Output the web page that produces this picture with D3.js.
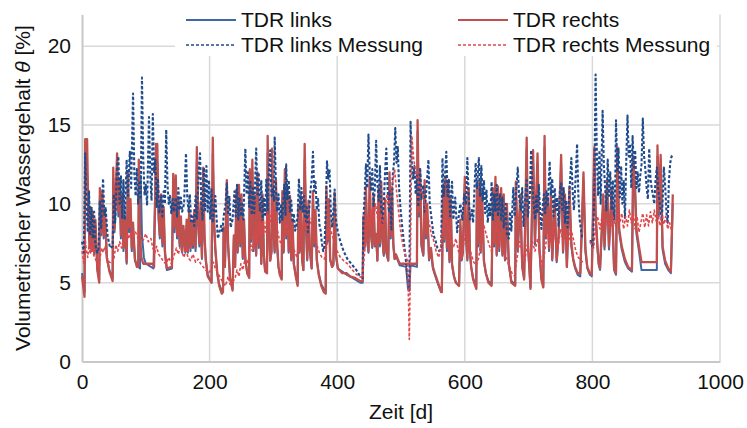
<!DOCTYPE html>
<html>
<head>
<meta charset="utf-8">
<script src="https://cdn.jsdelivr.net/npm/d3@7"></script>
<style>
  html, body { margin: 0; padding: 0; background: #fff; }
  svg { display: block; font-family: "Liberation Sans", Arial, sans-serif; }
</style>
</head>
<body>
<svg id="chart" width="747" height="428"></svg>
<script>
// Volumetric water content of the left and right TDR probes: model vs. measurement, [day, %]
const xTicks = [0, 200, 400, 600, 800, 1000];
const yTicks = [0, 5, 10, 15, 20];

const seriesNames = ["TDR links", "TDR rechts", "TDR links Messung", "TDR rechts Messung"];

const tdrLinks = [[0,5.6],[4,4.4],[5,13.5],[7,13.2],[10,8.8],[12,7.2],[13,9.4],[15,7.0],[17,9.0],[19,6.8],[21,8.6],[24,5.9],[27,5.2],[28,10.4],[30,8.0],[32,10.2],[34,7.8],[36,9.2],[39,6.5],[43,5.8],[48,5.3],[49,11.6],[51,8.2],[55,12.4],[57,9.2],[59,11.0],[61,7.8],[63,10.0],[65,7.0],[67,8.8],[70,6.2],[72,11.4],[74,8.2],[76,9.8],[78,7.0],[80,8.4],[83,6.4],[86,6.1],[91,5.9],[92,11.8],[94,8.0],[97,6.6],[100,6.2],[112,5.9],[116,13.0],[118,12.6],[120,9.0],[122,7.8],[124,10.0],[126,7.3],[128,9.4],[130,6.8],[133,5.8],[141,5.9],[143,11.2],[145,8.2],[147,11.0],[149,7.8],[151,10.0],[153,7.3],[155,8.8],[157,6.9],[159,8.3],[162,6.9],[164,8.6],[166,6.9],[168,9.2],[170,7.0],[172,8.6],[174,7.2],[176,9.2],[178,7.0],[180,12.6],[182,8.6],[184,7.3],[186,9.6],[188,6.5],[190,11.6],[192,7.8],[194,6.4],[197,5.5],[203,5.0],[205,13.2],[207,8.6],[209,7.0],[212,5.6],[215,4.9],[219,4.5],[221,4.5],[222,8.2],[224,6.0],[227,11.0],[229,7.3],[232,5.3],[236,4.6],[238,7.8],[240,6.0],[242,10.4],[244,6.9],[246,10.6],[248,7.3],[250,10.0],[252,6.5],[254,8.6],[256,6.4],[259,5.6],[262,5.4],[263,11.5],[265,7.6],[267,12.0],[269,7.0],[271,10.0],[273,6.7],[275,11.4],[277,7.2],[279,9.4],[281,6.2],[283,10.0],[285,6.7],[287,5.8],[290,5.6],[291,13.2],[293,8.2],[295,6.4],[297,6.9],[298,12.6],[300,8.2],[302,6.9],[304,11.0],[306,7.2],[308,6.0],[310,5.6],[313,5.3],[314,10.3],[316,6.9],[318,11.6],[320,7.8],[322,10.5],[324,6.9],[326,10.0],[328,6.4],[330,8.6],[332,6.2],[335,5.5],[338,4.9],[339,9.4],[341,6.9],[343,10.0],[345,6.4],[347,5.8],[349,12.8],[351,8.6],[353,6.4],[355,9.8],[357,7.0],[360,5.9],[362,10.3],[364,7.3],[366,9.2],[368,6.4],[371,5.6],[375,4.9],[379,4.6],[382,4.4],[383,10.6],[385,7.6],[387,9.8],[389,6.4],[392,6.0],[394,6.1],[396,10.2],[398,6.7],[401,5.9],[408,5.7],[415,5.5],[420,5.4],[428,5.2],[436,5.0],[440,5.0],[441,8.8],[443,7.2],[445,10.6],[447,7.6],[449,6.9],[451,11.2],[453,8.0],[455,7.2],[457,10.2],[459,7.3],[461,8.0],[463,6.4],[465,10.5],[467,7.3],[469,10.8],[471,7.6],[473,6.7],[475,9.8],[477,6.9],[480,6.4],[482,11.5],[484,7.8],[486,10.5],[488,7.3],[490,6.5],[492,6.7],[496,6.3],[498,6.1],[508,6.0],[511,4.6],[513,4.5],[515,6.1],[525,6.0],[526,14.6],[528,9.2],[530,11.5],[532,7.3],[535,6.7],[537,11.0],[539,7.8],[541,9.6],[544,6.4],[547,7.0],[550,5.9],[553,5.5],[558,4.9],[563,4.4],[564,4.4],[566,10.6],[568,7.6],[570,11.2],[572,7.0],[574,10.9],[576,6.3],[578,9.8],[580,6.1],[583,5.4],[586,5.0],[591,4.8],[593,8.6],[595,6.4],[597,6.9],[600,11.2],[602,7.8],[604,6.4],[606,10.5],[608,6.9],[610,6.0],[613,5.3],[618,4.7],[619,10.8],[621,7.3],[623,11.0],[625,6.9],[627,10.3],[630,6.3],[633,5.6],[637,5.1],[642,4.9],[644,10.5],[646,7.3],[648,11.2],[650,6.7],[652,10.6],[654,7.0],[657,10.5],[659,6.7],[661,10.1],[663,6.4],[666,9.6],[669,6.1],[673,5.1],[679,4.9],[680,10.9],[683,7.0],[687,10.1],[690,6.0],[693,5.3],[697,13.5],[699,7.3],[703,4.7],[707,12.8],[710,7.4],[714,12.6],[717,7.0],[720,5.3],[723,4.8],[725,13.6],[727,7.8],[730,10.0],[732,7.0],[735,10.1],[737,6.4],[741,9.8],[744,6.3],[747,7.8],[751,12.5],[754,6.9],[757,10.1],[760,6.0],[764,10.6],[767,7.3],[770,6.4],[773,5.9],[777,5.5],[781,5.4],[786,11.5],[789,7.0],[792,5.9],[796,5.5],[799,5.4],[803,13.0],[805,9.2],[808,7.1],[810,6.1],[812,5.8],[817,10.1],[819,7.1],[823,11.0],[826,7.1],[830,10.5],[834,5.8],[837,5.5],[839,13.0],[842,8.2],[846,7.1],[851,6.3],[856,5.9],[862,5.7],[864,12.4],[867,10.5],[869,8.1],[873,7.0],[877,5.8],[901,5.8],[902,13.0],[904,9.2],[907,12.5],[910,7.1],[914,6.2],[919,5.8],[923,5.6],[926,10.0]];

const tdrRechts = [[0,5.4],[4,4.1],[5,14.1],[8,14.1],[10,9.2],[12,7.4],[13,9.8],[15,7.0],[17,9.5],[19,6.9],[21,9.0],[24,5.8],[27,5.0],[28,11.0],[30,8.2],[32,10.8],[34,8.0],[36,9.6],[39,6.6],[43,5.7],[48,5.1],[49,12.3],[51,8.4],[55,13.2],[57,9.5],[59,11.5],[61,8.0],[63,10.6],[65,7.2],[67,9.2],[70,6.3],[72,12.0],[74,8.5],[76,10.3],[78,7.2],[80,8.8],[83,6.5],[86,6.0],[88,6.0],[89,12.8],[91,8.0],[93,6.6],[96,6.2],[111,6.2],[113,6.0],[116,13.8],[118,13.8],[120,9.5],[122,8.0],[124,10.6],[126,7.5],[128,9.8],[130,7.0],[133,5.9],[141,6.0],[143,11.9],[145,8.5],[147,11.8],[149,8.0],[151,10.4],[153,7.5],[155,9.2],[157,7.0],[159,8.6],[162,7.0],[164,9.0],[166,7.0],[168,9.6],[170,7.2],[172,8.9],[174,7.4],[176,9.6],[178,7.2],[180,13.6],[182,9.0],[184,7.5],[186,10.1],[188,6.6],[190,12.3],[192,8.0],[194,6.5],[197,5.4],[203,5.0],[205,14.2],[207,9.0],[209,7.2],[212,5.6],[215,4.8],[219,4.3],[221,4.4],[222,8.5],[224,6.0],[227,11.5],[229,7.5],[232,5.3],[236,4.5],[238,8.0],[240,6.0],[242,10.9],[244,7.0],[246,11.2],[248,7.5],[250,10.6],[252,6.6],[254,9.0],[256,6.5],[259,5.6],[262,5.3],[263,12.2],[265,7.8],[267,12.8],[269,7.2],[271,10.5],[273,6.8],[275,12.0],[277,7.4],[279,9.8],[281,6.2],[283,10.6],[285,6.8],[287,5.7],[290,5.6],[291,14.3],[293,8.5],[295,6.4],[297,7.0],[298,13.5],[300,8.5],[302,7.0],[304,11.5],[306,7.4],[308,6.0],[310,5.5],[313,5.2],[314,10.8],[316,7.0],[318,12.2],[320,8.0],[322,11.0],[324,7.0],[326,10.5],[328,6.5],[330,9.0],[332,6.2],[335,5.4],[338,4.8],[339,9.8],[341,7.0],[343,10.5],[345,6.5],[347,5.8],[349,13.8],[351,9.0],[353,6.5],[355,10.2],[357,7.2],[360,5.9],[362,10.8],[364,7.5],[366,9.6],[368,6.5],[371,5.5],[375,4.8],[379,4.4],[382,4.3],[383,11.1],[385,7.8],[387,10.3],[389,6.5],[392,6.0],[394,6.2],[396,10.7],[398,6.8],[401,5.9],[408,5.6],[415,5.6],[420,5.4],[428,5.3],[436,5.1],[440,5.1],[441,9.2],[443,7.3],[445,11.1],[447,7.8],[449,7.0],[451,11.7],[453,8.2],[455,7.3],[457,10.6],[459,7.4],[461,8.1],[463,6.4],[465,11.0],[467,7.5],[469,11.4],[471,7.8],[473,6.8],[475,10.3],[477,7.0],[480,6.4],[482,12.0],[484,8.0],[486,11.0],[488,7.5],[490,6.5],[492,6.8],[496,6.4],[498,6.2],[525,6.2],[526,15.3],[528,9.5],[530,12.0],[532,7.5],[535,6.8],[537,11.5],[539,8.0],[541,10.0],[544,6.5],[547,7.2],[550,6.0],[553,5.6],[558,5.0],[563,4.4],[564,4.4],[566,11.1],[568,7.8],[570,11.7],[572,7.2],[574,11.4],[576,6.4],[578,10.3],[580,6.2],[583,5.4],[586,5.0],[591,4.8],[593,9.0],[595,6.5],[597,7.0],[600,11.7],[602,8.0],[604,6.5],[606,11.0],[608,7.0],[610,6.0],[613,5.2],[618,4.6],[619,11.3],[621,7.5],[623,11.5],[625,7.0],[627,10.8],[630,6.4],[633,5.6],[637,5.0],[642,4.8],[644,11.0],[646,7.5],[648,11.7],[650,6.8],[652,11.1],[654,7.2],[657,11.0],[659,6.8],[661,10.6],[663,6.5],[666,10.0],[669,6.2],[673,5.0],[679,4.8],[680,11.4],[683,7.2],[687,10.6],[690,6.0],[693,5.2],[697,14.2],[699,7.5],[703,4.6],[707,13.4],[710,7.6],[714,13.2],[717,7.2],[720,5.2],[723,4.7],[725,14.3],[727,8.0],[730,10.4],[732,7.2],[735,10.6],[737,6.5],[741,10.2],[744,6.4],[747,8.0],[751,13.1],[754,7.0],[757,10.6],[760,6.0],[764,11.1],[767,7.5],[770,6.5],[773,6.0],[777,5.6],[781,5.6],[786,12.0],[789,7.2],[792,6.0],[796,5.6],[799,5.5],[803,13.6],[805,9.5],[808,7.3],[810,6.2],[812,5.9],[817,10.6],[819,7.3],[823,11.5],[826,7.3],[830,11.0],[834,5.9],[837,5.6],[839,13.6],[842,8.4],[846,7.3],[851,6.5],[856,6.0],[862,5.8],[864,13.0],[867,11.0],[869,8.4],[873,7.3],[877,6.3],[901,6.3],[902,13.7],[904,9.5],[907,13.1],[910,7.3],[914,6.4],[919,5.9],[923,5.7],[926,10.6]];

const tdrLinksMessung = [[0,7.6],[3,6.9],[5,13.2],[7,10.0],[9,8.2],[11,10.8],[13,8.0],[15,9.8],[17,7.8],[19,9.5],[21,7.4],[24,6.9],[26,7.2],[28,10.2],[30,8.4],[33,11.6],[35,9.3],[37,9.8],[40,8.0],[44,7.2],[48,7.3],[50,10.6],[52,8.8],[55,12.4],[57,13.0],[59,10.0],[61,11.8],[63,9.1],[65,11.5],[67,9.0],[70,12.8],[72,10.5],[75,13.3],[77,11.0],[80,17.0],[82,12.0],[84,10.5],[86,12.2],[88,10.0],[90,11.5],[92,10.4],[94,18.0],[96,12.8],[98,10.6],[100,11.2],[102,9.9],[105,15.5],[107,11.8],[109,10.2],[111,15.7],[113,12.0],[115,12.8],[117,9.8],[119,11.6],[121,9.4],[124,10.5],[126,9.2],[128,10.8],[130,10.0],[132,14.7],[134,11.2],[136,10.0],[138,10.5],[140,9.4],[142,10.3],[144,9.5],[147,10.4],[149,9.2],[151,11.0],[153,9.6],[155,10.4],[157,9.5],[160,10.0],[163,13.2],[165,10.5],[167,9.5],[169,10.6],[171,8.9],[173,9.2],[176,8.6],[178,10.5],[180,9.0],[183,12.2],[185,13.2],[187,10.0],[189,9.0],[191,12.3],[193,9.6],[195,12.4],[197,9.5],[199,11.5],[201,9.0],[203,11.0],[205,8.8],[207,9.5],[209,10.5],[211,9.0],[213,7.8],[216,8.3],[218,8.6],[220,8.2],[222,9.2],[225,10.0],[227,11.3],[229,9.3],[231,10.5],[233,8.5],[236,9.0],[239,10.8],[241,9.2],[243,11.2],[245,9.0],[247,10.4],[249,9.2],[251,10.0],[253,9.0],[256,13.5],[258,10.6],[260,12.0],[262,9.8],[264,11.4],[266,9.3],[268,11.0],[270,9.4],[273,13.5],[275,10.6],[277,12.0],[279,9.5],[281,11.5],[283,8.9],[285,10.4],[287,9.3],[289,11.6],[291,9.4],[293,12.2],[295,13.4],[297,10.5],[299,11.0],[301,10.2],[302,14.2],[304,11.0],[306,9.5],[308,10.6],[310,8.8],[312,10.0],[314,9.0],[317,11.2],[319,9.3],[320,12.5],[322,10.3],[324,11.5],[326,9.5],[328,10.2],[330,8.8],[332,9.4],[334,8.3],[336,8.6],[338,9.2],[340,11.6],[342,9.6],[344,11.0],[346,9.5],[348,10.5],[350,8.9],[352,9.8],[354,8.2],[356,9.6],[358,10.8],[360,11.5],[362,13.3],[364,10.8],[366,11.4],[368,9.6],[370,10.3],[372,8.7],[374,8.3],[376,7.5],[378,7.0],[380,7.3],[382,9.4],[384,12.7],[386,11.6],[388,12.2],[390,9.5],[392,8.5],[394,9.6],[396,10.9],[398,9.0],[401,8.2],[405,7.6],[410,7.0],[416,6.5],[422,6.2],[430,5.8],[436,5.4],[440,5.3],[441,9.0],[443,10.5],[445,12.5],[447,11.0],[449,14.4],[451,12.0],[453,10.8],[455,12.2],[457,9.8],[459,11.0],[461,14.0],[463,11.3],[465,10.2],[467,12.4],[469,9.6],[471,8.8],[473,10.0],[475,12.0],[477,13.5],[479,11.0],[481,9.5],[483,10.8],[485,8.3],[487,11.8],[489,12.6],[491,14.8],[493,12.6],[495,13.6],[497,11.0],[499,9.8],[502,8.5],[505,7.4],[508,6.3],[511,5.0],[513,4.5],[515,15.2],[517,12.5],[519,11.6],[521,12.4],[523,10.6],[525,11.8],[527,9.8],[530,12.3],[532,10.3],[535,11.2],[537,9.5],[540,11.0],[543,12.8],[545,10.0],[548,9.0],[551,8.0],[554,7.7],[557,7.2],[560,7.0],[563,7.3],[565,12.9],[567,10.5],[569,11.8],[571,13.3],[573,10.5],[575,11.6],[577,9.2],[580,11.4],[582,9.0],[585,10.4],[588,8.2],[591,9.4],[593,10.0],[596,9.0],[599,10.6],[602,10.0],[604,12.9],[606,10.5],[608,9.0],[611,9.6],[613,8.8],[615,10.8],[617,12.6],[619,11.0],[622,12.9],[624,10.5],[626,12.4],[628,10.2],[630,11.5],[632,9.4],[634,10.9],[636,8.8],[638,10.0],[640,9.2],[642,11.4],[644,9.0],[646,10.6],[648,9.5],[650,11.2],[652,9.2],[655,10.6],[657,9.0],[659,10.4],[661,8.5],[664,10.0],[666,8.0],[669,7.8],[671,9.5],[673,8.3],[676,11.0],[678,9.2],[680,10.5],[683,12.3],[685,10.5],[688,9.6],[690,11.0],[692,8.6],[694,10.0],[697,11.5],[699,9.2],[702,10.6],[704,13.4],[706,11.0],[708,10.0],[710,9.0],[712,10.5],[714,9.4],[716,11.2],[718,9.6],[720,8.4],[722,9.8],[724,10.6],[726,9.4],[728,10.8],[730,9.8],[733,12.7],[735,10.6],[737,11.6],[739,9.2],[741,11.0],[743,9.6],[745,10.4],[747,8.6],[749,10.8],[751,11.3],[753,9.5],[755,11.0],[757,8.8],[759,10.2],[761,8.5],[763,10.0],[765,11.5],[767,12.9],[769,10.8],[771,9.6],[773,11.0],[776,13.8],[778,10.5],[780,9.0],[782,8.4],[784,7.8],[790,null],[797,7.7],[799,7.4],[801,7.2],[803,11.0],[805,18.2],[807,13.0],[809,10.5],[811,13.4],[813,10.0],[816,15.9],[818,12.4],[820,11.0],[822,9.6],[824,12.8],[826,10.5],[828,12.0],[830,9.6],[832,11.5],[834,9.0],[836,11.8],[837,15.3],[839,12.0],[841,13.5],[843,10.4],[845,12.4],[847,10.0],[849,11.5],[851,9.1],[853,12.6],[855,15.6],[857,13.0],[859,13.8],[861,11.0],[863,14.3],[865,12.3],[867,13.4],[869,11.0],[871,12.0],[873,10.7],[875,11.8],[877,12.5],[879,15.4],[881,13.0],[883,12.2],[885,11.0],[887,10.3],[889,13.5],[891,11.6],[893,11.0],[895,10.5],[897,10.0],[899,11.5],[901,12.3],[903,11.0],[905,10.3],[907,9.5],[909,9.0],[912,12.3],[914,11.2],[916,9.5],[918,8.8],[920,11.5],[922,12.6],[924,13.0],[926,13.1]];

const tdrRechtsMessung = [[0,7.0],[3,6.2],[5,7.8],[7,7.0],[9,6.6],[11,7.4],[13,6.8],[15,7.3],[17,6.9],[20,6.6],[24,6.2],[27,6.0],[29,6.8],[31,7.2],[33,6.9],[36,7.3],[39,6.6],[43,6.3],[47,6.2],[50,6.5],[53,7.4],[56,7.0],[59,7.6],[62,7.2],[65,7.8],[68,7.6],[71,8.1],[74,7.8],[77,8.2],[80,7.9],[84,8.2],[88,7.8],[92,8.0],[96,7.7],[100,8.1],[104,7.6],[108,7.8],[111,7.2],[114,6.9],[117,7.3],[120,6.8],[124,6.6],[128,6.3],[132,6.2],[136,6.6],[140,6.2],[144,6.7],[148,7.2],[151,6.8],[154,7.3],[157,6.9],[160,6.6],[163,7.2],[166,6.6],[170,6.4],[174,6.8],[178,6.3],[182,6.5],[186,6.2],[190,6.0],[194,5.8],[198,5.6],[202,5.8],[206,6.3],[209,5.9],[213,5.6],[217,5.3],[221,5.0],[225,4.8],[229,5.4],[232,4.9],[236,5.0],[240,5.3],[243,5.8],[246,5.4],[249,6.2],[252,5.8],[256,6.6],[260,6.2],[264,7.5],[267,7.0],[271,8.2],[274,7.6],[277,8.8],[280,8.0],[284,9.0],[287,8.2],[291,9.5],[294,8.6],[298,9.8],[301,9.0],[305,8.6],[309,7.8],[313,7.3],[317,8.0],[321,8.7],[325,8.1],[329,7.6],[333,7.0],[337,6.6],[341,7.6],[345,8.3],[349,9.0],[352,8.4],[356,9.2],[360,8.6],[364,8.0],[368,7.4],[372,6.9],[376,6.6],[380,6.5],[384,7.4],[388,8.6],[392,8.0],[396,7.6],[400,7.0],[405,6.6],[410,6.4],[416,6.2],[422,5.9],[428,5.6],[434,5.4],[440,5.3],[442,6.5],[445,7.8],[448,9.2],[451,8.6],[454,9.6],[457,8.8],[460,10.0],[463,9.2],[466,8.4],[469,9.4],[472,8.6],[475,9.8],[478,10.6],[481,9.8],[484,10.6],[487,11.4],[490,12.2],[493,10.8],[496,9.6],[499,8.4],[502,7.6],[505,7.0],[508,6.6],[510,6.4],[512,3.5],[513,1.4],[514,4.0],[517,14.3],[520,12.8],[524,11.8],[528,11.2],[532,10.8],[536,10.2],[540,9.5],[544,8.8],[548,8.0],[551,7.7],[555,7.0],[559,6.6],[562,7.2],[566,8.6],[570,9.2],[574,8.4],[578,7.6],[582,7.2],[586,7.8],[590,7.0],[594,6.6],[598,7.4],[602,8.4],[606,7.6],[610,6.8],[614,6.3],[618,6.1],[622,6.6],[626,7.8],[630,8.6],[634,8.0],[638,7.4],[642,7.0],[646,7.8],[650,8.6],[654,8.0],[658,7.3],[662,6.8],[666,6.5],[670,6.0],[674,5.6],[678,5.4],[682,6.6],[686,7.6],[690,7.0],[694,6.4],[698,7.4],[702,6.6],[706,7.6],[710,7.0],[714,7.8],[718,6.8],[722,6.0],[726,7.2],[730,8.2],[734,7.6],[738,8.6],[742,7.8],[746,7.2],[750,8.4],[754,7.6],[758,8.2],[762,7.4],[766,8.4],[770,7.8],[774,7.0],[778,6.6],[782,6.4],[785,6.3],[790,null],[796,7.6],[799,7.4],[802,7.2],[805,8.6],[808,9.2],[812,8.4],[816,9.4],[820,8.6],[824,9.0],[828,8.4],[832,9.2],[836,8.6],[840,9.6],[843,8.8],[846,9.4],[849,8.4],[852,9.2],[855,8.6],[858,9.6],[861,8.8],[864,9.4],[867,8.4],[870,9.2],[873,8.2],[876,8.8],[879,9.4],[882,8.5],[885,9.3],[888,8.6],[891,9.5],[894,8.8],[897,9.6],[900,8.9],[903,9.3],[906,8.6],[909,9.4],[912,8.7],[915,9.2],[918,8.4],[921,8.8],[924,8.3],[926,8.0]];

// ---- layout ----
const svg = d3.select("#chart");
const plot = { left: 82, right: 720, top: 14.6, bottom: 361.5 };
const fontSize = 21;

const x = d3.scaleLinear().domain([0, 1000]).range([plot.left, plot.right]);
const y = d3.scaleLinear().domain([0, 22]).range([plot.bottom, plot.top]);

const styles = {
  "TDR links":          { color: "#3e67a6", width: 2.0, dash: null },
  "TDR rechts":         { color: "#c0504d", width: 2.3, dash: null },
  "TDR links Messung":  { color: "#1f4a8c", width: 2.1, dash: "3,2" },
  "TDR rechts Messung": { color: "#e0474a", width: 1.6, dash: "3,2" }
};

// gridlines
const grid = svg.append("g");
grid.selectAll("line.h").data(yTicks.filter(d => d > 0)).join("line")
  .attr("x1", plot.left).attr("x2", plot.right)
  .attr("y1", d => y(d)).attr("y2", d => y(d))
  .attr("stroke", "#d9d9d9").attr("stroke-width", 1.5);
grid.selectAll("line.v").data(xTicks.filter(d => d > 0)).join("line")
  .attr("x1", d => x(d)).attr("x2", d => x(d))
  .attr("y1", plot.top).attr("y2", plot.bottom)
  .attr("stroke", "#d9d9d9").attr("stroke-width", 1.5);

// axes
const xAxis = svg.append("g").attr("transform", `translate(0,${plot.bottom})`)
  .call(d3.axisBottom(x).tickValues(xTicks).tickSize(0).tickPadding(13).tickFormat(d3.format("d")));
xAxis.select(".domain").attr("stroke", "#c8c8c8").attr("stroke-width", 2);
xAxis.selectAll("text").attr("font-size", fontSize).attr("fill", "#111").attr("font-family", "Liberation Sans, Arial, sans-serif");

const yAxis = svg.append("g").attr("transform", `translate(${plot.left},0)`)
  .call(d3.axisLeft(y).tickValues(yTicks).tickSize(0).tickPadding(11).tickFormat(d3.format("d")));
yAxis.select(".domain").attr("stroke", "#c8c8c8").attr("stroke-width", 2);
yAxis.selectAll("text").attr("font-size", fontSize).attr("fill", "#111").attr("font-family", "Liberation Sans, Arial, sans-serif");

// series, drawn in legend order
const line = d3.line()
  .defined(d => d[1] !== null)
  .x(d => x(d[0])).y(d => y(d[1]));

const seriesData = {
  "TDR links": tdrLinks,
  "TDR rechts": tdrRechts,
  "TDR links Messung": tdrLinksMessung,
  "TDR rechts Messung": tdrRechtsMessung
};

const lines = svg.append("g");
seriesNames.forEach(name => {
  const s = styles[name];
  lines.append("path")
    .datum(seriesData[name])
    .attr("d", line)
    .attr("fill", "none")
    .attr("stroke", s.color)
    .attr("stroke-width", s.width)
    .attr("stroke-dasharray", s.dash)
    .attr("stroke-linejoin", "round");
});

// axis titles
svg.append("text")
  .attr("x", (plot.left + plot.right) / 2).attr("y", 419)
  .attr("text-anchor", "middle").attr("font-size", fontSize).attr("fill", "#111")
  .text("Zeit [d]");

const yTitle = svg.append("text")
  .attr("transform", `translate(30,${(plot.top + plot.bottom) / 2}) rotate(-90)`)
  .attr("text-anchor", "middle").attr("font-size", fontSize).attr("fill", "#111");
yTitle.append("tspan").text("Volumetrischer Wassergehalt ");
yTitle.append("tspan").attr("font-style", "italic").text("θ");
yTitle.append("tspan").text(" [%]");

// legend
const legend = svg.append("g");
legend.append("rect")
  .attr("x", 175).attr("y", 4).attr("width", 542).attr("height", 52)
  .attr("fill", "#fff");
const legendPos = [
  { name: "TDR links", x: 186, y: 20 },
  { name: "TDR rechts", x: 458, y: 20 },
  { name: "TDR links Messung", x: 186, y: 45 },
  { name: "TDR rechts Messung", x: 458, y: 45 }
];
legendPos.forEach(p => {
  const s = styles[p.name];
  legend.append("line")
    .attr("x1", p.x).attr("x2", p.x + 50)
    .attr("y1", p.y).attr("y2", p.y)
    .attr("stroke", s.color).attr("stroke-width", s.dash ? 1.5 : 2)
    .attr("stroke-dasharray", s.dash);
  legend.append("text")
    .attr("x", p.x + 55).attr("y", p.y + 7)
    .attr("font-size", fontSize).attr("fill", "#111")
    .text(p.name);
});
</script>
</body>
</html>
